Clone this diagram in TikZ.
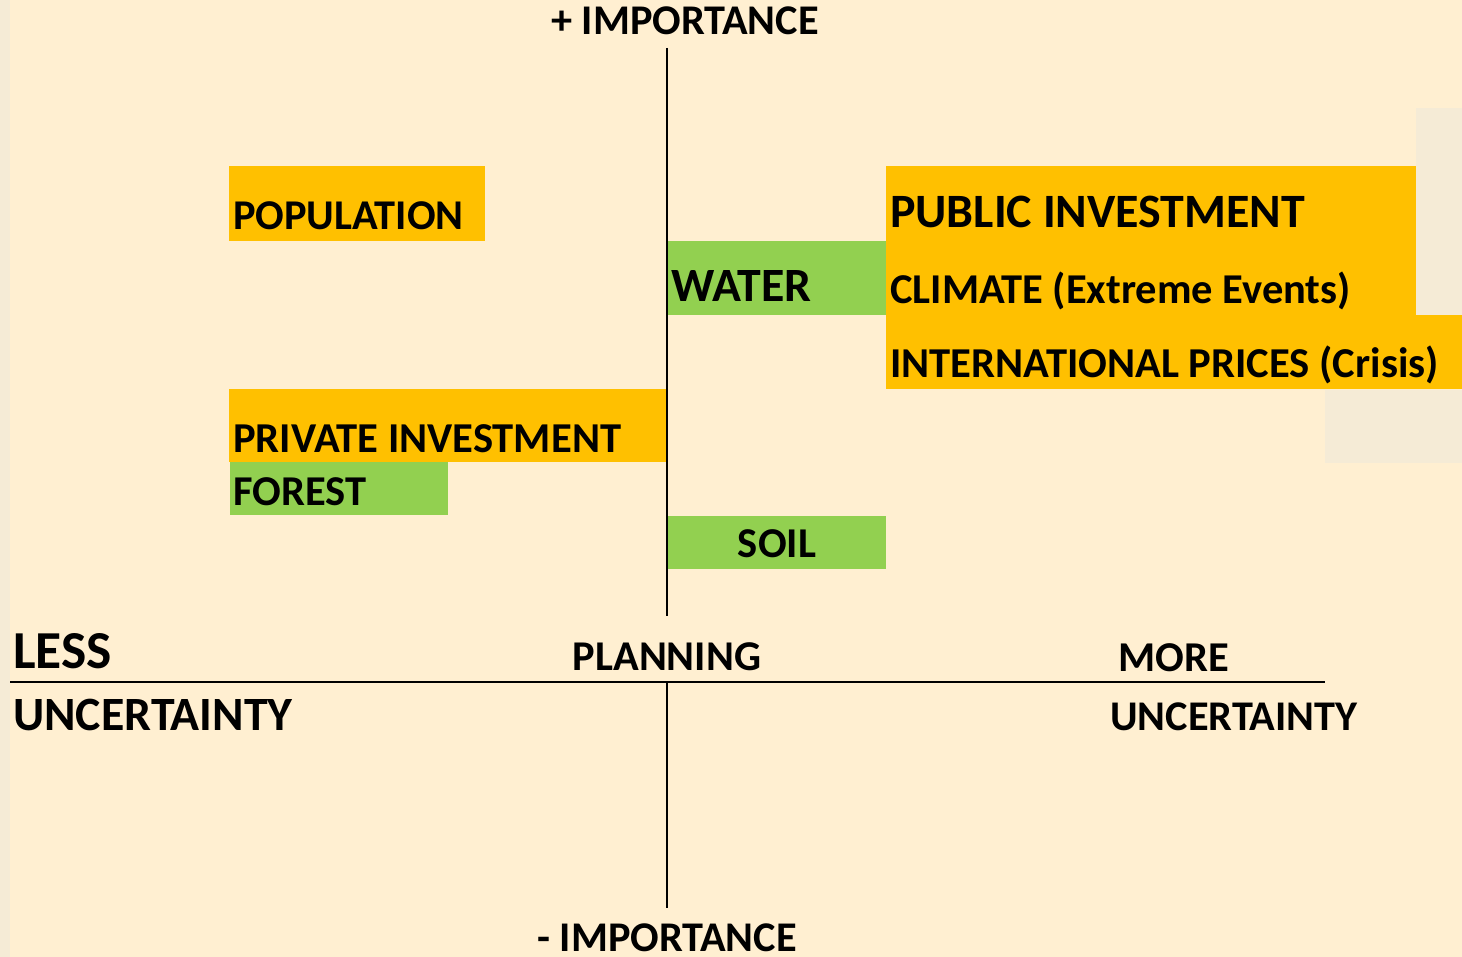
\documentclass[tikz,border=0pt]{standalone}
\usepackage{fontspec}
\setmainfont{Carlito}
\definecolor{cream}{HTML}{FFEFD1}
\definecolor{dimcream}{HTML}{F5EBD6}
\definecolor{amber}{HTML}{FFC000}
\definecolor{leaf}{HTML}{92D050}
\tikzset{
  lbl/.style={anchor=base west, inner sep=0pt, font=\bfseries\fontsize{#1}{#1}\selectfont},
  clbl/.style={lbl=#1, anchor=base},
  axis/.style={line width=1.3pt, black},
}
\begin{document}
\begin{tikzpicture}[x=1pt,y=-1pt]
  \useasboundingbox (0,0) rectangle (1462,957);
  \fill[cream] (0,0) rectangle (1462,957);
  \fill[dimcream] (0,0) rectangle (10,957);
  \fill[dimcream] (1416,108) rectangle (1462,315);
  \fill[dimcream] (1325,390) rectangle (1462,463);
  % colour bars
  \fill[amber] (229,166) rectangle (485,241);
  \fill[leaf] (667,241) rectangle (886,315);
  \fill[amber] (886,166) rectangle (1416,315);
  \fill[amber] (886,315) rectangle (1462,389);
  \fill[amber] (229,389) rectangle (667,462);
  \fill[leaf] (230,462) rectangle (448,515);
  \fill[leaf] (667,516) rectangle (886,569);
  % axes
  \coordinate (top) at (667,48);
  \coordinate (mid) at (667,616);
  \coordinate (cross) at (667,682);
  \coordinate (bottom) at (667,908);
  \coordinate (west) at (10,682);
  \coordinate (east) at (1325,682);
  \draw[axis] (top) -- (mid);
  \draw[axis] (cross) -- (bottom);
  \draw[axis] (west) -- (east);
  % factors
  \node[lbl=42.4] (population) at (233,230) {POPULATION};
  \node[lbl=47.8] (water) at (671,302) {WATER};
  \node[lbl=47.9] (publicinv) at (890,228) {PUBLIC INVESTMENT};
  \node[lbl=42.5] (climate) at (890,304) {CLIMATE (Extreme Events)};
  \node[lbl=42.6] (prices) at (890,378) {INTERNATIONAL PRICES (Crisis)};
  \node[lbl=42.6] (privateinv) at (233,452) {PRIVATE INVESTMENT};
  \node[lbl=42.5] (forest) at (233,505) {FOREST};
  \node[clbl=42.5] (soil) at (777,557) {SOIL};
  % axis labels
  \node[clbl=42.3] (plusimp) at (685,35) {+ IMPORTANCE};
  \node[clbl=42.3] (minusimp) at (667,951) {- IMPORTANCE};
  \node[clbl=42.4] (planning) at (667,670) {PLANNING};
  \node[lbl=53.4] (less) at (13,668) {LESS};
  \node[lbl=47.8] (lessunc) at (13,730) {UNCERTAINTY};
  \node[lbl=42.5] (more) at (1118,671) {MORE};
  \node[lbl=42.3] (moreunc) at (1110,730) {UNCERTAINTY};
\end{tikzpicture}
\end{document}
